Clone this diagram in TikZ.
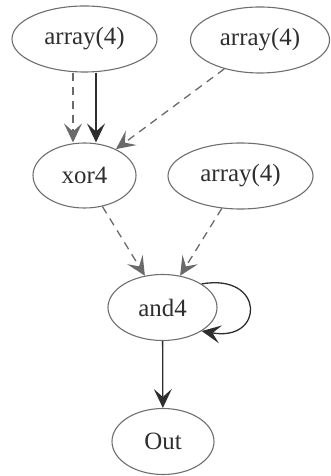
\documentclass[tikz,border=0pt]{standalone}
\usepackage{fontspec}
\newfontfamily\labelfont{Liberation Serif}
\usepackage{xcolor}
\usepackage{tikz}
\usetikzlibrary{arrows.meta,shapes.geometric,positioning}
\definecolor{nodegray}{HTML}{6E6E6E}
\definecolor{edgegray}{HTML}{6A6A6A}
\definecolor{edgedark}{HTML}{2E2E2E}

\begin{document}
\begin{tikzpicture}[x=1bp, y=1bp,
  op/.style = {ellipse, draw=nodegray, line width=1.1bp, inner sep=0pt,
               minimum height=66bp, text=edgedark, font=\labelfont\fontsize{25}{30}\selectfont},
  vee/.style = {-{Stealth[length=19bp, width=18bp, inset=8bp]}},
  dep/.style = {vee, draw=edgegray, line width=1.3bp, dash pattern=on 8bp off 6bp},
  flow/.style = {vee, draw=edgedark, line width=1.3bp}]
\useasboundingbox (0,0) rectangle (330,476);
\node[op, minimum width=145bp] (arr1) at (84.5,437) {array(4)};
\node[op, minimum width=139bp] (arr2) at (260,436) {array(4)};
\node[op, minimum width=103bp, minimum height=65bp] (xor) at (84.5,300.5) {xor4};
\node[op, minimum width=145bp] (arr3) at (240.5,300) {array(4)};
\node[op, minimum width=109bp] (and) at (162.5,168.5) {and4};
\node[op, minimum width=102bp] (out) at (163,34.5) {Out};
% edges into xor4
\draw[dep] ([xshift=-11.5bp]arr1.south) -- ([xshift=-11.5bp]xor.north);
\draw[flow] ([xshift=11.5bp]arr1.south) -- ([xshift=11.5bp]xor.north);
\draw[dep] (arr2.219) -- (xor.40);
% edges into and4
\draw[dep] (xor.300) -- (and.119);
\draw[dep] (arr3.240) -- (and.61);
\draw[flow] (and.31) to[out=10, in=-10, looseness=3.5] (and.-31);
\draw[flow] (and) -- (out);
\end{tikzpicture}
\end{document}
